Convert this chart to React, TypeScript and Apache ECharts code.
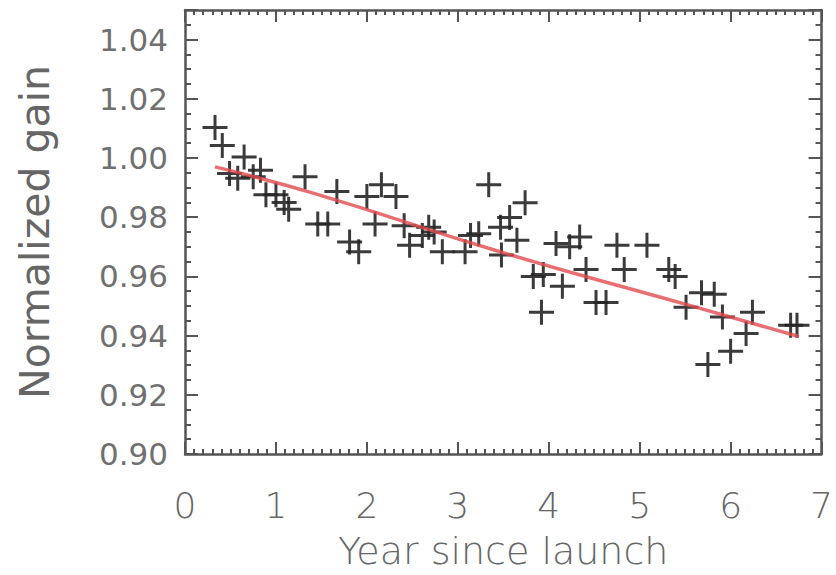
import React, { useEffect, useRef } from "react";
import * as echarts from "echarts";

// Normalized detector gain against time since launch
const yearSinceLaunch = [
  0.33, 0.41, 0.65, 0.49, 0.58, 0.75, 0.83, 0.89, 1.0, 1.09,
  1.14, 1.32, 1.46, 1.57, 1.67, 1.81, 1.91, 2.0, 2.09, 2.16,
  2.32, 2.41, 2.47, 2.61, 2.68, 2.74, 2.83, 3.08, 3.14, 3.23,
  3.34, 3.47, 3.48, 3.57, 3.65, 3.74, 3.83, 3.94, 3.92, 4.08,
  4.23, 4.34, 4.15, 4.41, 4.52, 4.63, 4.75, 4.83, 5.08, 5.32,
  5.39, 5.51, 5.68, 5.82, 5.75, 5.91, 6.0, 6.17, 6.24, 6.66,
  6.73,
];
const normalizedGain = [
  1.0103, 1.0042, 1.0003, 0.9948, 0.9932, 0.9937, 0.9959, 0.9876, 0.9876, 0.985,
  0.9827, 0.9937, 0.9777, 0.9777, 0.9887, 0.9716, 0.9683, 0.987, 0.9777, 0.991,
  0.987, 0.9771, 0.9705, 0.9738, 0.9766, 0.975, 0.9683, 0.9683, 0.9738, 0.9744,
  0.991, 0.9766, 0.9672, 0.9799, 0.9722, 0.9849, 0.96, 0.9606, 0.9479, 0.9711,
  0.97, 0.9733, 0.9567, 0.9623, 0.9512, 0.9512, 0.9705, 0.9623, 0.9705, 0.9623,
  0.96, 0.9496, 0.9545, 0.954, 0.9302, 0.9463, 0.9347, 0.9407, 0.9479, 0.9435,
  0.9435,
];

// Fitted degradation trend
const fitYear = [0.33, 1.4, 3.5, 5.55, 6.75];
const fitGain = [0.997, 0.9882, 0.968, 0.9502, 0.9397];

const xTickLabels = ["0", "1", "2", "3", "4", "5", "6", "7"];
const yTickLabels = ["0.90", "0.92", "0.94", "0.96", "0.98", "1.00", "1.02", "1.04"];

const AXIS_GREY = "#555555";
const TEXT_GREY = "#666666";
const PLUS = "path://M11,0h3v11h11v3h-11v11h-3v-11h-11v-3h11z";

export default function App() {
  const ref = useRef<HTMLDivElement>(null);

  useEffect(() => {
    if (!ref.current) return;
    const chart = echarts.init(ref.current, undefined, { renderer: "svg" });

    const boxLine = { show: true, onZero: false, lineStyle: { color: AXIS_GREY, width: 2.5 } };
    const xTick = { show: true, inside: true, length: 12, lineStyle: { color: AXIS_GREY, width: 2 } };
    const xMinor = { show: true, splitNumber: 10, length: 5, lineStyle: { color: AXIS_GREY, width: 2 } };
    const yTick = { show: true, inside: true, length: 13, lineStyle: { color: AXIS_GREY, width: 2 } };
    const yMinor = { show: true, splitNumber: 4, length: 6, lineStyle: { color: AXIS_GREY, width: 2 } };

    const xLabel = (v: number) => {
      const i = Math.round(v);
      return Math.abs(v - i) < 1e-6 && xTickLabels[i] !== undefined ? xTickLabels[i] : "";
    };
    const yLabel = (v: number) => {
      const i = Math.round((v - 0.9) / 0.02);
      return Math.abs(v - (0.9 + i * 0.02)) < 1e-6 && yTickLabels[i] !== undefined ? yTickLabels[i] : "";
    };

    chart.setOption({
      animation: false,
      backgroundColor: "#ffffff",
      grid: { left: 185, right: 8, top: 10, bottom: 112, containLabel: false },
      xAxis: [
        {
          type: "value",
          min: 0,
          max: 7,
          interval: 1,
          position: "bottom",
          axisLine: boxLine,
          axisTick: xTick,
          minorTick: xMinor,
          splitLine: { show: false },
          axisLabel: {
            formatter: xLabel,
            margin: 33,
            color: TEXT_GREY,
            fontFamily: "DejaVu Sans",
            fontWeight: 200,
            fontSize: 36,
          },
          name: "Year since launch",
          nameLocation: "middle",
          nameGap: 78,
          nameTextStyle: {
            color: TEXT_GREY,
            fontFamily: "DejaVu Sans",
            fontWeight: 200,
            fontSize: 38,
          },
        },
        {
          type: "value",
          min: 0,
          max: 7,
          interval: 1,
          position: "top",
          axisLine: boxLine,
          axisTick: xTick,
          minorTick: xMinor,
          splitLine: { show: false },
          axisLabel: { show: false },
        },
      ],
      yAxis: [
        {
          type: "value",
          min: 0.9,
          max: 1.05,
          interval: 0.02,
          position: "left",
          axisLine: boxLine,
          axisTick: yTick,
          minorTick: yMinor,
          splitLine: { show: false },
          axisLabel: {
            formatter: yLabel,
            showMaxLabel: false,
            margin: 17,
            color: "#707070",
            fontFamily: "DejaVu Sans",
            fontSize: 31,
          },
          name: "Normalized gain",
          nameLocation: "middle",
          nameGap: 130,
          nameTextStyle: {
            color: "#666666",
            fontFamily: "DejaVu Sans",
            fontSize: 41,
          },
        },
        {
          type: "value",
          min: 0.9,
          max: 1.05,
          interval: 0.02,
          position: "right",
          axisLine: boxLine,
          axisTick: yTick,
          minorTick: yMinor,
          splitLine: { show: false },
          axisLabel: { show: false },
        },
      ],
      series: [
        {
          type: "scatter",
          xAxisIndex: 0,
          yAxisIndex: 0,
          symbol: PLUS,
          symbolSize: 25,
          itemStyle: { color: "#262626", opacity: 0.9 },
          data: yearSinceLaunch.map((x, i) => [x, normalizedGain[i]]),
          z: 2,
        },
        {
          type: "line",
          xAxisIndex: 0,
          yAxisIndex: 0,
          smooth: true,
          showSymbol: false,
          lineStyle: { color: "#e24a4f", width: 3.5, opacity: 0.8 },
          data: fitYear.map((x, i) => [x, fitGain[i]]),
          z: 3,
        },
      ],
    });

    return () => chart.dispose();
  }, []);

  return (
    <div
      ref={ref}
      style={{ position: "fixed", left: 0, top: 0, width: 836, height: 575, background: "#fff" }}
    />
  );
}
